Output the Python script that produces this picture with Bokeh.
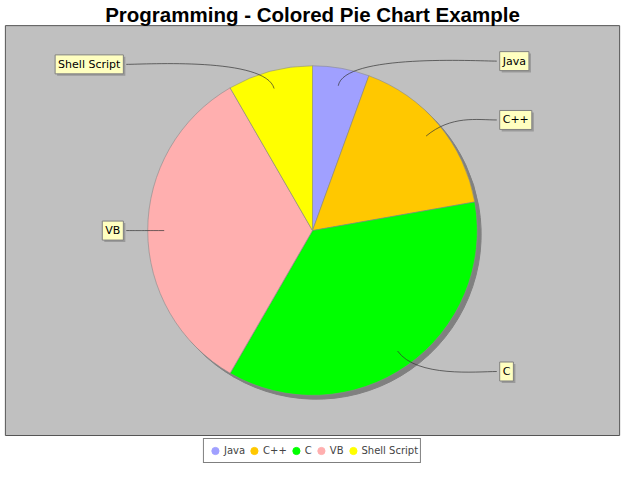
import math
from bokeh.plotting import figure
from bokeh.models import Range1d, ColumnDataSource, Legend, LegendItem
from bokeh.core.properties import value
from bokeh.embed import file_html
from bokeh.resources import INLINE

# ---- data ----
title_text = "Programming - Colored Pie Chart Example"
languages = ["Java", "C++", "C", "VB", "Shell Script"]
shares = [20, 60, 130, 120, 30]
colors = ["#A0A0FF", "#FFC800", "#00FF00", "#FFAFAF", "#FFFF00"]

# ---- layout constants (reference pixel space, y flipped to data) ----
W, H = 624, 464
cx, cy, r = 320, 242, 169
label_r = 178
right_x, left_x = 509, 129
pad = 3

p = figure(width=W, height=H, output_backend="svg", toolbar_location=None,
           x_range=Range1d(0, 640), y_range=Range1d(0, 480), min_border=0,
           x_axis_location=None, y_axis_location=None)
p.grid.visible = False
p.outline_line_color = None
p.background_fill_color = "white"
p.border_fill_color = "white"

# plot area
p.quad(left=[5], right=[635], bottom=[30], top=[454],
       fill_color="#C0C0C0", line_color="#555555", line_width=1)

# title
p.text(x=[320], y=[480 - 14], text=[title_text], text_align="center",
       text_baseline="middle", text_font=value("Liberation Sans"),
       text_font_style="bold", text_font_size="20.5px", text_color="black")

# pie geometry
total = float(sum(shares))
starts, ends, mids = [], [], []
acc = 0.0
for v in shares:
    d0 = acc / total * 360.0
    acc += v
    d1 = acc / total * 360.0
    starts.append(math.radians(90 - d1))
    ends.append(math.radians(90 - d0))
    mids.append(math.radians(90 - (d0 + d1) / 2))

src = ColumnDataSource(dict(start=starts, end=ends, color=colors, lang=languages))
p.wedge(x=cx + 4, y=cy - 4, radius=r, start_angle="start", end_angle="end",
        source=src, fill_color="#808080", line_color="#808080")
p.wedge(x=cx, y=cy, radius=r, start_angle="start", end_angle="end",
        source=src, fill_color="color", line_color="#8A8A8A", line_width=0.6)

# labels + links
lx, ly, align, bx0, by0, bx1, by1, bcx0, bcy0, bcx1, bcy1 = ([] for _ in range(11))
for th in mids:
    c, s = math.cos(th), math.sin(th)
    yl = cy + label_r * s
    if c >= 0:
        xl = right_x
        lx.append(xl + pad); align.append("left"); anc = xl - 20
    else:
        xl = left_x
        lx.append(xl - pad); align.append("right"); anc = xl + 20
    ly.append(yl)
    bx0.append(cx + 0.9 * r * c); by0.append(cy + 0.9 * r * s)
    bcx0.append(cx + 1.1 * r * c); bcy0.append(cy + 1.1 * r * s)
    bcx1.append(anc); bcy1.append(yl)
    bx1.append(xl); by1.append(yl)

lsrc = ColumnDataSource(dict(x=lx, y=ly, text=languages, align=align))
p.bezier(x0=bx0, y0=by0, x1=bx1, y1=by1, cx0=bcx0, cy0=bcy0, cx1=bcx1, cy1=bcy1,
         line_color="#333333", line_width=0.7)
p.text(x="x", y="y", text="text", source=lsrc, text_align="align",
       text_baseline="middle", text_font=value("DejaVu Sans"), text_font_size="11px",
       text_alpha=0, x_offset=2, y_offset=2, padding=pad,
       background_fill_color="#9A9A9A", border_line_color=None)
p.text(x="x", y="y", text="text", source=lsrc, text_align="align",
       text_baseline="middle", text_font=value("DejaVu Sans"), text_font_size="11px",
       text_color="black", padding=pad,
       background_fill_color="#FFFFC0", border_line_color="#808080", border_line_width=1)

# legend
nan = float("nan")
leg_src = ColumnDataSource(dict(x=[nan] * len(languages), y=[nan] * len(languages),
                                color=colors))
sc = p.scatter(x="x", y="y", source=leg_src, color="color", size=9)
items = [LegendItem(label=lang, renderers=[sc], index=i) for i, lang in enumerate(languages)]
legend = Legend(items=items, location="bottom_center", orientation="horizontal",
                label_text_font="DejaVu Sans", label_text_font_size="10px",
                glyph_width=18, glyph_height=19, label_standoff=0, spacing=0,
                label_width=0, label_height=17, padding=2, margin=1,
                border_line_color="black", border_line_width=1,
                background_fill_color="white", background_fill_alpha=1.0)
p.add_layout(legend)

open("out.html", "w").write(file_html(p, INLINE))
